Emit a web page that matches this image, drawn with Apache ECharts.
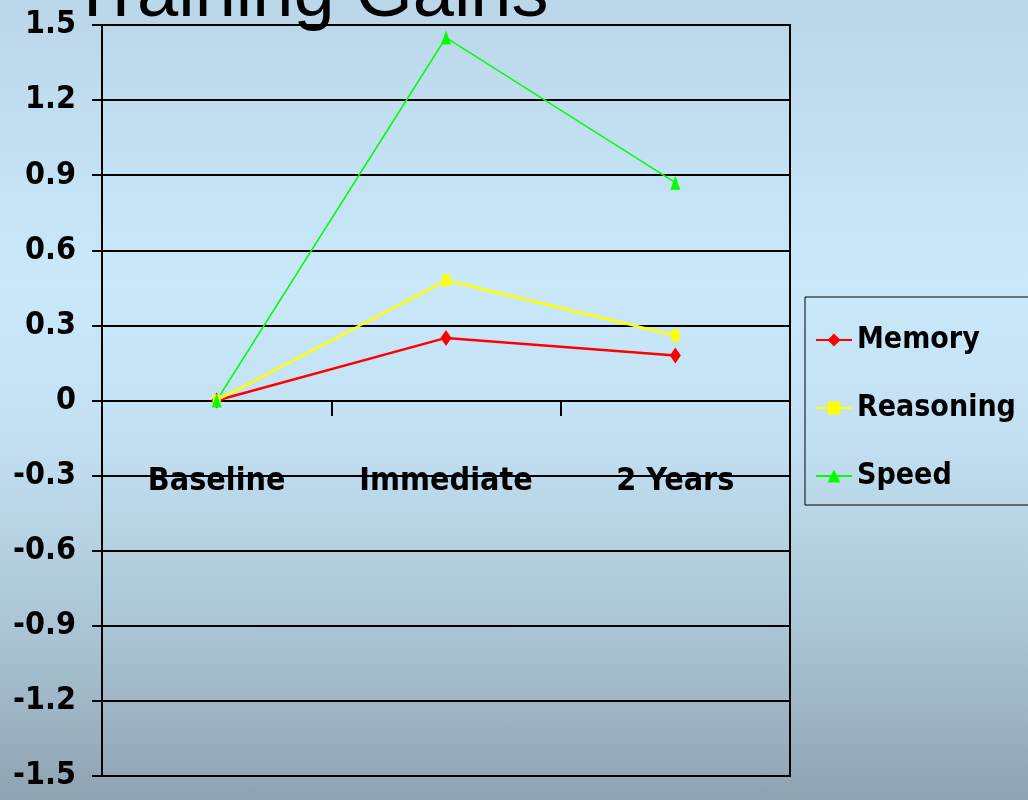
<!DOCTYPE html>
<html>
<head>
<meta charset="utf-8">
<script src="https://cdn.jsdelivr.net/npm/echarts@6/dist/echarts.min.js"></script>
<style>
  html, body { margin: 0; padding: 0; }
  #chart {
    width: 1028px;
    height: 800px;
    background: linear-gradient(to bottom, #b9d7e9 0%, #c9e8fa 35%, #c2e0f2 55%, #a9c3d3 80%, #8ea3b1 100%);
  }
</style>
</head>
<body>
<div id="chart"></div>
<script>
const categories = ['Baseline', 'Immediate', '2 Years']
const memory = [0, 0.25, 0.18]
const reasoning = [0, 0.48, 0.26]
const speed = [0, 1.45, 0.87]

const narrow = "'Liberation Sans Narrow', 'DejaVu Sans Condensed', sans-serif"

const myChart = echarts.init(document.getElementById('chart'))
let option = {
  animation: false,
  title: {
    text: 'Training Gains',
    left: 70,
    top: -41,
    padding: 0,
    textStyle: {
      fontFamily: "'Liberation Sans', Arial, sans-serif",
      fontWeight: 'normal',
      fontSize: 74,
      color: '#000'
    }
  },
  grid: {
    left: 102,
    right: 238,
    top: 25,
    bottom: 24,
    containLabel: false,
    outerBoundsMode: 'none',
    show: true,
    borderColor: '#000',
    borderWidth: 2,
    backgroundColor: 'transparent'
  },
  legend: {
    orient: 'vertical',
    left: 805,
    top: 297,
    padding: [28, 60, 14, 10],
    itemGap: 38,
    itemWidth: 36,
    itemHeight: 16,
    borderColor: '#000',
    borderWidth: 1,
    textStyle: {
      fontFamily: narrow,
      fontWeight: 'bold',
      fontSize: 30,
      color: '#000'
    }
  },
  xAxis: {
    type: 'category',
    data: categories,
    boundaryGap: true,
    // axis sits at value 0, the middle of the grid
    offset: -375,
    axisLine: { onZero: false, lineStyle: { color: '#000', width: 2 } },
    axisTick: { show: true, interval: 0, length: 15, lineStyle: { color: '#000', width: 2 } },
    axisLabel: {
      interval: 0,
      margin: 65,
      fontFamily: narrow,
      fontWeight: 'bold',
      fontSize: 32,
      color: '#000'
    }
  },
  yAxis: {
    type: 'value',
    min: -1.5,
    max: 1.5,
    interval: 0.3,
    axisLine: { show: true, lineStyle: { color: '#000', width: 2 } },
    axisTick: { show: true, length: 10, lineStyle: { color: '#000', width: 2 } },
    splitLine: { show: true, lineStyle: { color: '#000', width: 2 } },
    axisLabel: {
      margin: 26,
      padding: [8, 0, 0, 0],
      fontFamily: narrow,
      fontWeight: 'bold',
      fontSize: 32,
      color: '#000',
      formatter: v => String(+v.toFixed(1))
    }
  },
  series: [
    {
      name: 'Memory',
      type: 'line',
      data: memory,
      symbol: 'diamond',
      symbolSize: [11, 16],
      lineStyle: { color: '#ff0000', width: 2.5 },
      itemStyle: { color: '#ff0000' }
    },
    {
      name: 'Reasoning',
      type: 'line',
      data: reasoning,
      symbol: 'rect',
      symbolSize: [8, 12],
      lineStyle: { color: '#ffff00', width: 2.5 },
      itemStyle: { color: '#ffff00' }
    },
    {
      name: 'Speed',
      type: 'line',
      data: speed,
      symbol: 'triangle',
      symbolSize: [10, 14],
      lineStyle: { color: '#00ff00', width: 1.5 },
      itemStyle: { color: '#00ff00' }
    }
  ]
}
myChart.setOption(option)
</script>
</body>
</html>
